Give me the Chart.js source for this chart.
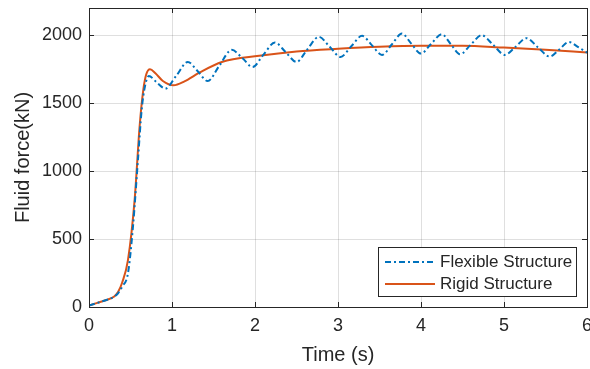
<!DOCTYPE html>
<html><head><meta charset="utf-8">
<script src="https://cdn.jsdelivr.net/npm/chart.js@4"></script>
<style>html,body{margin:0;padding:0;background:#fff}#wrap{width:590px;height:369px;position:relative}</style>
</head><body><div id="wrap"><canvas id="c" width="590" height="369"></canvas></div>
<script>
const flexTime=[0,0.1,0.2,0.3,0.35,0.4,0.47,0.53,0.59,0.635,0.675,0.72,0.82,0.92,1.05,1.19,1.31,1.43,1.57,1.72,1.85,1.97,2.1,2.24,2.37,2.5,2.63,2.77,2.9,3.03,3.16,3.29,3.41,3.53,3.65,3.77,3.88,4.0,4.12,4.25,4.36,4.47,4.6,4.73,4.87,5.01,5.14,5.27,5.41,5.55,5.67,5.78,5.9,6.0];
const flexForce=[10,30,50,75,101,150,250,593,1085,1454,1626,1700,1650,1607,1700,1803,1735,1663,1775,1892,1830,1766,1855,1946,1875,1803,1895,1988,1915,1840,1918,1995,1925,1855,1933,2012,1940,1865,1935,2007,1933,1860,1930,2000,1928,1855,1915,1978,1910,1843,1897,1950,1910,1872];
const rigidTime=[0,0.1,0.2,0.3,0.35,0.4,0.47,0.55,0.61,0.655,0.69,0.735,0.8,0.89,1.02,1.15,1.33,1.6,2.05,2.5,3.0,3.5,4.0,4.5,5.0,5.5,6.0];
const rigidForce=[10,30,50,76,110,180,347,790,1330,1601,1712,1749,1720,1663,1631,1660,1724,1803,1848,1880,1900,1915,1922,1922,1909,1893,1872];
const xTicks=[0,1,2,3,4,5,6];
const yTicks=[0,500,1000,1500,2000];
const seriesLabels=['Flexible Structure','Rigid Structure'];
const xTitle='Time (s)';
const yTitle='Fluid force(kN)';

const FONT="'Liberation Sans', Arial, Helvetica, sans-serif";
const INK='#262626';
const GRID='rgba(38,38,38,0.15)';

const frame={
  id:'frame',
  afterDatasetsDraw(chart){
    const {ctx,chartArea:a,scales:{x,y}}=chart;
    ctx.save();
    ctx.strokeStyle=INK;ctx.lineWidth=1;
    ctx.strokeRect(Math.round(a.left)+0.5,Math.round(a.top)+0.5,Math.round(a.right-a.left),Math.round(a.bottom-a.top));
    ctx.beginPath();
    const L=5;
    xTicks.forEach(v=>{const px=Math.round(x.getPixelForValue(v))+0.5;
      ctx.moveTo(px,a.bottom);ctx.lineTo(px,a.bottom-L);
      ctx.moveTo(px,a.top);ctx.lineTo(px,a.top+L);});
    yTicks.forEach(v=>{const py=Math.round(y.getPixelForValue(v))+0.5;
      ctx.moveTo(a.left,py);ctx.lineTo(a.left+L,py);
      ctx.moveTo(a.right,py);ctx.lineTo(a.right-L,py);});
    ctx.stroke();
    // legend
    const bx=378,by=247,bw=198,bh=49;
    ctx.fillStyle='#fff';ctx.fillRect(bx,by,bw,bh);
    ctx.strokeRect(bx+0.5,by+0.5,bw,bh);
    ctx.font='17px '+FONT;ctx.textBaseline='middle';ctx.fillStyle=INK;
    chart.data.datasets.forEach((ds,i)=>{
      const cy=by+15+i*22;
      ctx.beginPath();ctx.strokeStyle=ds.borderColor;ctx.lineWidth=ds.borderWidth;
      ctx.setLineDash(ds.borderDash||[]);
      ctx.moveTo(bx+7,cy);ctx.lineTo(bx+57,cy);ctx.stroke();
      ctx.setLineDash([]);
      ctx.fillText(ds.label,bx+62,cy);
    });
    ctx.restore();
  }
};

new Chart(document.getElementById('c'),{
  type:'line',
  data:{datasets:[
    {label:seriesLabels[0],data:flexTime.map((t,i)=>({x:t,y:flexForce[i]})),borderColor:'#0072BD',borderWidth:2,borderDash:[6,3,2,3],pointRadius:0,cubicInterpolationMode:'monotone',fill:false},
    {label:seriesLabels[1],data:rigidTime.map((t,i)=>({x:t,y:rigidForce[i]})),borderColor:'#D95319',borderWidth:2,pointRadius:0,cubicInterpolationMode:'monotone',fill:false}
  ]},
  options:{
    responsive:false,animation:false,devicePixelRatio:1,
    layout:{padding:{top:8,right:3,left:0,bottom:0}},
    plugins:{legend:{display:false},tooltip:{enabled:false}},
    scales:{
      x:{type:'linear',min:0,max:6,
        afterBuildTicks(s){s.ticks=xTicks.map(v=>({value:v}));},
        afterFit(s){s.height=62;s.paddingLeft=0;s.paddingRight=0;},
        grid:{color:GRID,drawTicks:false},border:{display:false},
        ticks:{color:INK,font:{family:FONT,size:18},padding:8,maxRotation:0,callback:v=>String(v)},
        title:{display:true,text:xTitle,color:INK,font:{family:FONT,size:20},padding:{top:0,bottom:2}}
      },
      y:{type:'linear',min:0,max:2200,
        afterBuildTicks(s){s.ticks=yTicks.map(v=>({value:v}));},
        afterFit(s){s.width=89;s.paddingTop=0;s.paddingBottom=0;},
        grid:{color:GRID,drawTicks:false},border:{display:false},
        ticks:{color:INK,font:{family:FONT,size:18},padding:7,callback:v=>String(v)},
        title:{display:true,text:yTitle,color:INK,font:{family:FONT,size:20},padding:{top:11,bottom:0}}
      }
    }
  },
  plugins:[frame]
});
</script>
</body></html>
